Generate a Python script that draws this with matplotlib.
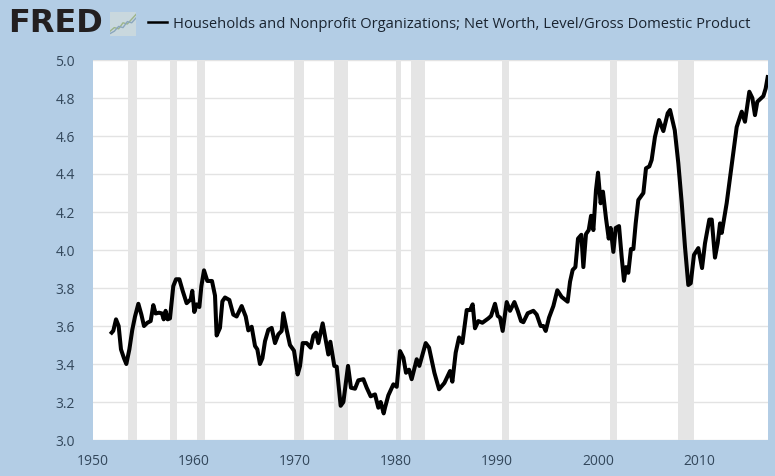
import matplotlib.pyplot as plt

years = [1951.85, 1952.01, 1952.28, 1952.54, 1952.77, 1953.07, 1953.3, 1953.6, 1953.89, 1954.16, 1954.49, 1954.79,
         1955.05, 1955.38, 1955.71, 1955.97, 1956.2, 1956.53, 1956.83, 1957.0, 1957.19, 1957.39, 1957.62, 1957.95,
         1958.22, 1958.55, 1958.88, 1959.27, 1959.67, 1959.83, 1960.03, 1960.26, 1960.53, 1960.73, 1960.99, 1961.32,
         1961.78, 1962.08, 1962.24, 1962.57, 1962.81, 1963.07, 1963.5, 1963.89, 1964.22, 1964.72, 1965.12, 1965.38,
         1965.71, 1966.04, 1966.27, 1966.53, 1966.77, 1967.03, 1967.36, 1967.69, 1968.02, 1968.35, 1968.68, 1968.84,
         1969.17, 1969.5, 1969.9, 1970.26, 1970.5, 1970.76, 1971.15, 1971.55, 1971.82, 1972.08, 1972.31, 1972.74,
         1972.97, 1973.3, 1973.5, 1973.7, 1973.89, 1974.13, 1974.52, 1974.79, 1975.25, 1975.54, 1975.94, 1976.27,
         1976.77, 1977.1, 1977.49, 1977.92, 1978.25, 1978.48, 1978.78, 1978.91, 1979.24, 1979.74, 1980.07, 1980.4,
         1980.73, 1980.99, 1981.29, 1981.55, 1982.05, 1982.31, 1982.94, 1983.27, 1983.8, 1984.26, 1984.79, 1985.35,
         1985.58, 1985.91, 1986.24, 1986.57, 1987.0, 1987.33, 1987.59, 1987.82, 1988.15, 1988.55, 1989.14, 1989.41,
         1989.8, 1990.07, 1990.3, 1990.56, 1990.96, 1991.29, 1991.72, 1992.05, 1992.38, 1992.61, 1993.04, 1993.6,
         1993.93, 1994.32, 1994.59, 1994.82, 1995.15, 1995.58, 1995.97, 1996.4, 1996.99, 1997.23, 1997.49, 1997.76,
         1998.02, 1998.35, 1998.55, 1998.81, 1999.08, 1999.31, 1999.54, 1999.8, 2000.0, 2000.26, 2000.49, 2000.79,
         2001.06, 2001.25, 2001.52, 2001.75, 2002.08, 2002.34, 2002.57, 2002.77, 2003.0, 2003.26, 2003.5, 2003.73,
         2003.99, 2004.49, 2004.75, 2005.08, 2005.31, 2005.64, 2006.04, 2006.47, 2006.9, 2007.13, 2007.6, 2007.95,
         2008.29, 2008.61, 2008.94, 2009.18, 2009.5, 2009.93, 2010.3, 2010.59, 2011.02, 2011.26, 2011.58, 2011.85,
         2012.08, 2012.25, 2012.74, 2013.24, 2013.73, 2014.23, 2014.55, 2014.98, 2015.28, 2015.54, 2015.77, 2016.37,
         2016.6, 2016.8]
ratio = [3.565, 3.575, 3.635, 3.6, 3.477, 3.43, 3.4, 3.477, 3.58, 3.65, 3.717, 3.66,
         3.6, 3.617, 3.626, 3.71, 3.666, 3.67, 3.666, 3.635, 3.68, 3.635, 3.64, 3.81,
         3.846, 3.846, 3.785, 3.72, 3.74, 3.785, 3.674, 3.714, 3.7, 3.81, 3.893, 3.837,
         3.837, 3.76, 3.55, 3.59, 3.73, 3.75, 3.737, 3.66, 3.65, 3.705, 3.65, 3.577,
         3.596, 3.495, 3.477, 3.4, 3.43, 3.52, 3.58, 3.59, 3.51, 3.556, 3.574, 3.667,
         3.58, 3.5, 3.47, 3.345, 3.39, 3.51, 3.51, 3.486, 3.55, 3.565, 3.51, 3.614,
         3.547, 3.45, 3.517, 3.45, 3.39, 3.386, 3.18, 3.2, 3.39, 3.275, 3.27, 3.314,
         3.32, 3.275, 3.23, 3.24, 3.17, 3.2, 3.14, 3.17, 3.235, 3.293, 3.28, 3.468,
         3.433, 3.354, 3.37, 3.32, 3.425, 3.39, 3.51, 3.486, 3.354, 3.267, 3.3, 3.363,
         3.307, 3.46, 3.54, 3.51, 3.684, 3.684, 3.714, 3.588, 3.626, 3.617, 3.64, 3.653,
         3.717, 3.653, 3.644, 3.574, 3.726, 3.68, 3.726, 3.68, 3.626, 3.62, 3.667, 3.68,
         3.66, 3.6, 3.6, 3.574, 3.644, 3.705, 3.788, 3.753, 3.728, 3.833, 3.895, 3.91,
         4.06, 4.08, 3.91, 4.084, 4.105, 4.18, 4.105, 4.316, 4.407, 4.246, 4.307, 4.167,
         4.06, 4.116, 3.99, 4.116, 4.126, 3.965, 3.838, 3.91, 3.88, 4.005, 4.005, 4.14,
         4.263, 4.3, 4.43, 4.44, 4.474, 4.596, 4.684, 4.626, 4.72, 4.737, 4.63, 4.457,
         4.247, 4.017, 3.816, 3.825, 3.974, 4.01, 3.905, 4.035, 4.16, 4.16, 3.96, 4.037,
         4.14, 4.09, 4.247, 4.447, 4.647, 4.728, 4.675, 4.833, 4.8, 4.71, 4.78, 4.81,
         4.85, 4.91]

recession_start = [1953.5, 1957.6, 1960.3, 1969.9, 1973.9, 1980.0, 1981.5, 1990.5, 2001.2, 2007.9]
recession_end = [1954.4, 1958.3, 1961.1, 1970.9, 1975.2, 1980.5, 1982.9, 1991.2, 2001.9, 2009.5]

x_ticks = [1950, 1960, 1970, 1980, 1990, 2000, 2010]
y_ticks = [3.0, 3.2, 3.4, 3.6, 3.8, 4.0, 4.2, 4.4, 4.6, 4.8, 5.0]

# the small chart icon next to the logo
icon_x = [0, 1, 2, 3, 4, 5, 6]
icon_green = [0.2, 0.35, 0.3, 0.55, 0.5, 0.7, 0.9]
icon_blue = [0.1, 0.2, 0.4, 0.35, 0.6, 0.55, 0.75]

plt.rcParams['font.family'] = 'Open Sans'

plt.figure(figsize=(7.75, 4.76), dpi=100, facecolor='#b3cde5')
plt.axes([93 / 775, 1 - 440 / 476, 675 / 775, 380 / 476])

# Shade the recessions
for start, end in zip(recession_start, recession_end):
    plt.axvspan(start, end, color='#e5e5e5', linewidth=0, zorder=1)

plt.plot(years, ratio, color='black', linewidth=2.9, solid_joinstyle='round', zorder=3,
         label='Households and Nonprofit Organizations; Net Worth, Level/Gross Domestic Product')

plt.xlim(1950, 2016.83)
plt.ylim(3.0, 5.0)
plt.xticks(x_ticks, [str(x) for x in x_ticks])
plt.yticks(y_ticks, [f"{y:.1f}" for y in y_ticks])
plt.tick_params(axis='both', length=0, labelsize=10, labelcolor='#33475b')
plt.tick_params(axis='y', pad=13)
plt.tick_params(axis='x', pad=10)
plt.grid(axis='y', color='#e3e3e3', linewidth=1, zorder=2)
plt.gca().set_axisbelow(True)
plt.gca().spines[:].set_visible(False)

# Legend sits above the plot next to the logo
leg = plt.legend(loc='center left', bbox_to_anchor=(148 / 775, 1 - 24 / 476), bbox_transform=plt.gcf().transFigure,
                 frameon=False, fontsize=10.6, handlelength=1.3, handletextpad=0.4, borderpad=0, borderaxespad=0,
                 labelcolor='#1a2430')
leg.legend_handles[0].set_linewidth(1.8)  # thinner than the line in the plot

plt.figtext(8 / 775, 1 - 24 / 476, 'FRED', fontsize=23, fontweight='bold', family='DejaVu Sans', color='#231f20',
            va='center', ha='left')

plt.axes([110 / 775, 1 - 36 / 476, 26 / 775, 24 / 476], facecolor='#c9d8de')
plt.plot(icon_x, icon_green, color='#9db58a', linewidth=1)
plt.plot(icon_x, icon_blue, color='#8aa6bd', linewidth=1)
plt.xlim(0, 6)
plt.ylim(0, 1)
plt.xticks([])
plt.yticks([])
plt.gca().spines[:].set_visible(False)

plt.savefig('out.png', dpi=100, facecolor='#b3cde5')
